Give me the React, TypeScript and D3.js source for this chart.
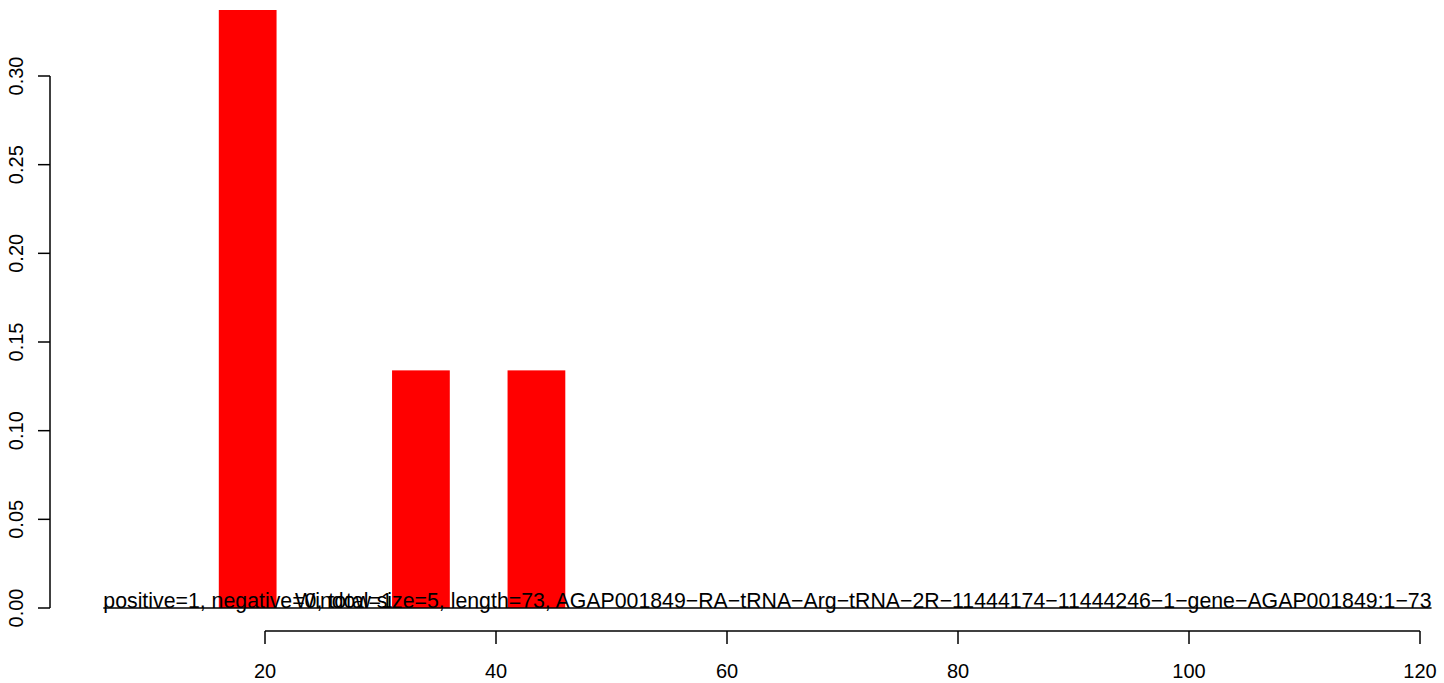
import React from "react";
import * as d3 from "d3";

const windowStarts = [16, 31, 41];
const windowSize = 5;
const fractions = [0.34, 0.134, 0.134];
const xTicks = [20, 40, 60, 80, 100, 120];
const yTicks = [0, 0.05, 0.1, 0.15, 0.2, 0.25, 0.3];
const labelLeft = "positive=1, negative=0, total=1";
const labelRight =
  "Window size=5, length=73, AGAP001849\u2212RA\u2212tRNA\u2212Arg\u2212tRNA\u22122R\u221211444174\u221211444246\u22121\u2212gene\u2212AGAP001849:1\u221273";
const lineSpan = [6, 121];

const W = 1444;
const H = 683;
const plot = { left: 50, right: 1444, top: 10, bottom: 631 };
const font = "'Liberation Sans', Arial, Helvetica, sans-serif";
const fs = 20;
const fsText = 21.3;

export default function App() {
  const x = d3.scaleLinear().domain([20, 120]).range([265, 1420]);
  const y = d3.scaleLinear().domain([0, 0.3]).range([608, 76]);

  return (
    <svg
      width={W}
      height={H}
      style={{ position: "absolute", left: 0, top: 0, background: "#fff" }}
      fontFamily={font}
    >
      <defs>
        <clipPath id="plotclip">
          <rect x={plot.left} y={plot.top} width={plot.right - plot.left} height={plot.bottom - plot.top} />
        </clipPath>
      </defs>
      <g clipPath="url(#plotclip)">
        {windowStarts.map((s, i) => (
          <rect
            key={i}
            x={x(s)}
            y={y(fractions[i])}
            width={x(s + windowSize) - x(s)}
            height={y(0) - y(fractions[i])}
            fill="#ff0000"
          />
        ))}
      </g>
      <line x1={x(lineSpan[0])} x2={x(lineSpan[1])} y1={y(0)} y2={y(0)} stroke="#000" strokeWidth={1.3} />
      <text x={x(lineSpan[0])} y={y(0)} fontSize={fsText} fill="#000" textAnchor="start">
        {labelLeft}
      </text>
      <text x={x(lineSpan[1])} y={y(0)} fontSize={fsText} fill="#000" textAnchor="end">
        {labelRight}
      </text>
      <g stroke="#000" strokeWidth={1.5} fill="none">
        <line x1={x(xTicks[0])} x2={x(xTicks[xTicks.length - 1])} y1={631} y2={631} />
        {xTicks.map((t) => (
          <line key={t} x1={x(t)} x2={x(t)} y1={631} y2={644} />
        ))}
        <line x1={plot.left} x2={plot.left} y1={y(yTicks[0])} y2={y(yTicks[yTicks.length - 1])} />
        {yTicks.map((t) => (
          <line key={t} x1={plot.left} x2={plot.left - 12} y1={y(t)} y2={y(t)} />
        ))}
      </g>
      {xTicks.map((t) => (
        <text key={t} x={x(t)} y={678} fontSize={fs} textAnchor="middle" fill="#000">
          {t}
        </text>
      ))}
      {yTicks.map((t) => (
        <text
          key={t}
          transform={`translate(${23},${y(t)}) rotate(-90)`}
          fontSize={fs}
          textAnchor="middle"
          fill="#000"
        >
          {t.toFixed(2)}
        </text>
      ))}
    </svg>
  );
}
